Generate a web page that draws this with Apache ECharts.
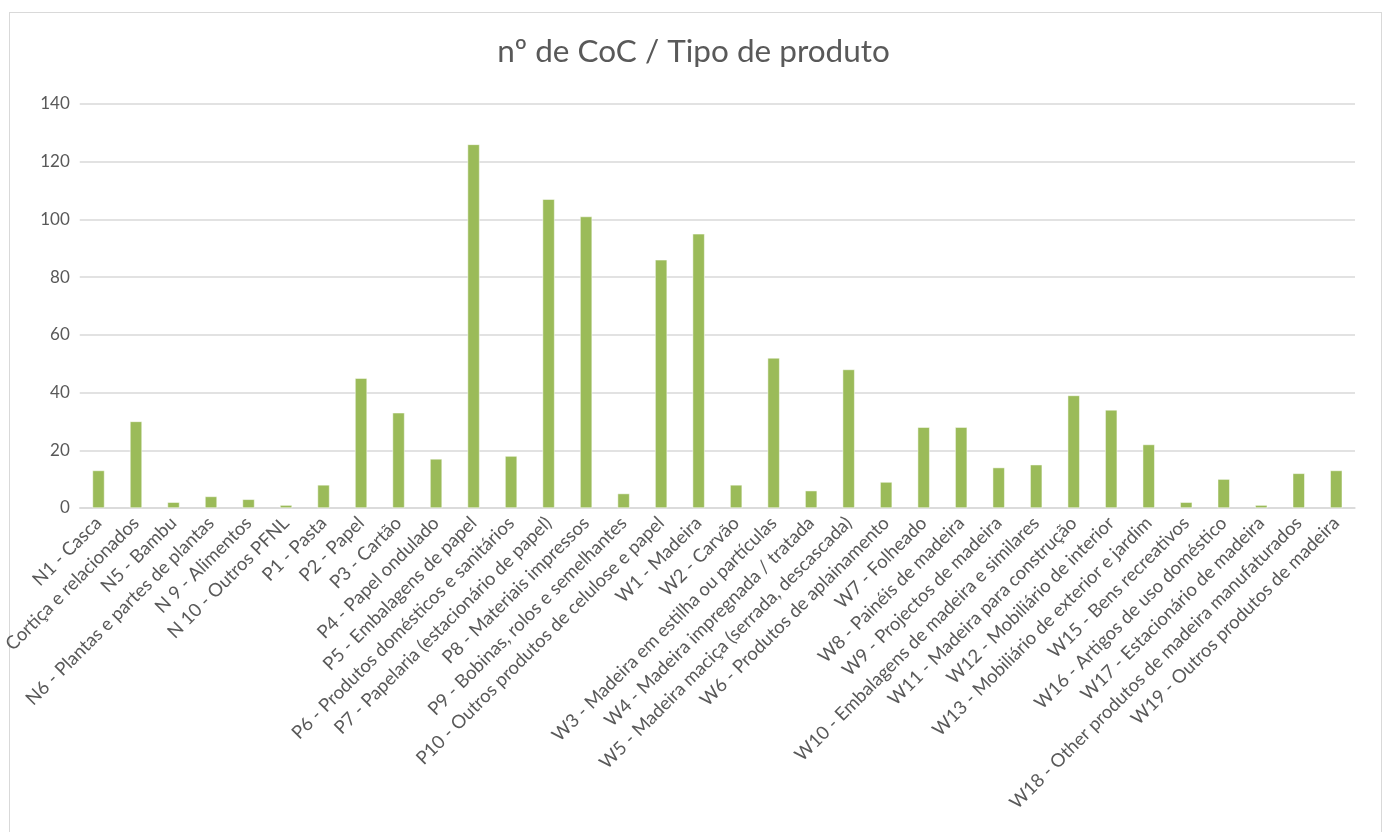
<!DOCTYPE html>
<html>
<head>
<meta charset="utf-8">
<script src="https://cdn.jsdelivr.net/npm/echarts@6/dist/echarts.min.js"></script>
<style>
  html, body { margin: 0; padding: 0; background: #ffffff; }
  #frame { position: absolute; left: 9px; top: 12px; width: 1373px; height: 840px; border: 1px solid #d9d9d9; box-sizing: border-box; }
  #chart { position: absolute; left: 0; top: 0; width: 1387px; height: 832px; }
</style>
</head>
<body>
<div id="frame"></div>
<div id="chart"></div>
<script>
const categories = [
  "N1 - Casca",
  "Cortiça e relacionados",
  "N5 - Bambu",
  "N6 - Plantas e partes de plantas",
  "N 9 - Alimentos",
  "N 10 - Outros PFNL",
  "P1 - Pasta",
  "P2 - Papel",
  "P3 - Cartão",
  "P4 - Papel ondulado",
  "P5 - Embalagens de papel",
  "P6 - Produtos domésticos e sanitários",
  "P7 - Papelaria (estacionário de papel)",
  "P8 - Materiais impressos",
  "P9 - Bobinas, rolos e semelhantes",
  "P10 - Outros produtos de celulose e papel",
  "W1 - Madeira",
  "W2 - Carvão",
  "W3 - Madeira em estilha ou partículas",
  "W4 - Madeira impregnada / tratada",
  "W5 - Madeira maciça (serrada, descascada)",
  "W6 - Produtos de aplainamento",
  "W7 - Folheado",
  "W8 - Painéis de madeira",
  "W9 - Projectos de madeira",
  "W10 - Embalagens de madeira e similares",
  "W11 - Madeira para construção",
  "W12 - Mobiliário de interior",
  "W13 - Mobiliário de exterior e jardim",
  "W15 - Bens recreativos",
  "W16 - Artigos de uso doméstico",
  "W17 - Estacionário de madeira",
  "W18 - Other produtos de madeira manufaturados",
  "W19 - Outros produtos de madeira"
];
const counts = [13, 30, 2, 4, 3, 1, 8, 45, 33, 17, 126, 18, 107, 101, 5, 86, 95, 8, 52, 6, 48, 9, 28, 28, 14, 15, 39, 34, 22, 2, 10, 1, 12, 13];
const yTicks = [0, 20, 40, 60, 80, 100, 120, 140];
const titleText = "nº de CoC / Tipo de produto";

const chart = echarts.init(document.getElementById('chart'), null, { renderer: 'canvas' });
const textFont = "Lato, 'Open Sans', sans-serif";
chart.setOption({
  animation: false,
  backgroundColor: 'transparent',
  title: {
    text: titleText,
    left: 'center',
    top: 31,
    textStyle: { color: '#595959', fontSize: 31.5, fontWeight: 'normal', fontFamily: textFont }
  },
  grid: { left: 77, right: 32, top: 104, bottom: 324, containLabel: false },
  xAxis: {
    type: 'category',
    data: categories,
    axisLine: { lineStyle: { color: '#d9d9d9', width: 1.5 } },
    axisTick: { show: false },
    axisLabel: { rotate: 45, interval: 0, color: '#595959', fontSize: 18.5, fontFamily: textFont, margin: 12 }
  },
  yAxis: {
    type: 'value',
    min: yTicks[0],
    max: yTicks[yTicks.length - 1],
    interval: yTicks[1] - yTicks[0],
    axisLine: { show: false },
    axisTick: { show: false },
    axisLabel: { color: '#595959', fontSize: 17, fontFamily: textFont, margin: 10 },
    splitLine: { lineStyle: { color: '#d9d9d9', width: 1.5 } }
  },
  series: [{
    type: 'bar',
    data: counts,
    barWidth: 12,
    itemStyle: { color: '#9bbb59', borderColor: '#ffffff', borderWidth: 0.5 }
  }]
});
</script>
</body>
</html>
